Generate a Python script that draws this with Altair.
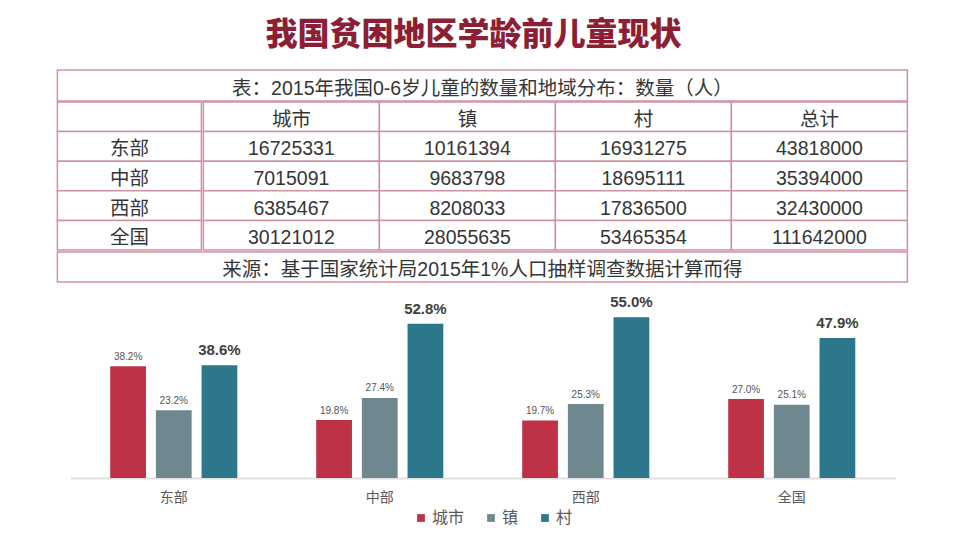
import altair as alt
import pandas as pd

# ---------------- data ----------------
chart_title = "我国贫困地区学龄前儿童现状"
table_title = "表：2015年我国0-6岁儿童的数量和地域分布：数量（人）"
table_source = "来源：基于国家统计局2015年1%人口抽样调查数据计算而得"

regions = ["东部", "中部", "西部", "全国"]
areas = ["城市", "镇", "村"]
table_headers = ["城市", "镇", "村", "总计"]

count_city = [16725331, 7015091, 6385467, 30121012]
count_town = [10161394, 9683798, 8208033, 28055635]
count_village = [16931275, 18695111, 17836500, 53465354]
count_total = [43818000, 35394000, 32430000, 111642000]

share_city = [38.2, 19.8, 19.7, 27.0]
share_town = [23.2, 27.4, 25.3, 25.1]
share_village = [38.6, 52.8, 55.0, 47.9]

# ---------------- styles ----------------
FONT = "Liberation Sans, Noto Sans CJK SC"
CJK = "Noto Sans CJK SC"
BORDER = "#cf93a3"
TEXT = "#363636"
COLORS = ["#be3147", "#6f8890", "#2d778c"]
TFS = 19.5
GAP = -3

view_box = alt.ViewBackground(stroke=BORDER, strokeWidth=1.5)


def band(domain):
    return alt.Scale(domain=domain, paddingInner=0, paddingOuter=0)


def text_mark():
    return dict(fontSize=TFS, color=TEXT, font=FONT, baseline="middle", dy=3)


# ---------------- table: title row ----------------
title_row = alt.Chart(pd.DataFrame({"k": ["t"], "text": [table_title]})).mark_text(
    **text_mark()
).encode(
    x=alt.X("k:N", scale=band(["t"]), axis=None),
    text="text:N",
).properties(width=850, height=31, view=view_box)

# ---------------- table: body ----------------
body_rows = ["header"] + regions

label_df = pd.DataFrame({"row": body_rows, "col": ["c0"] * len(body_rows),
                         "text": [""] + regions})
lx = alt.X("col:N", scale=band(["c0"]), axis=None)
ly = alt.Y("row:N", scale=band(body_rows), axis=None)
label_col = alt.layer(
    alt.Chart(label_df).mark_rect(fill="white", stroke=BORDER, strokeWidth=1.5).encode(x=lx, y=ly),
    alt.Chart(label_df).mark_text(**text_mark()).encode(x=lx, y=ly, text="text:N"),
).properties(width=144, height=148)

data_texts = []
for c in table_headers:
    data_texts.append({"row": "header", "col": c, "text": c})
for i, r in enumerate(regions):
    for c, series in zip(table_headers, [count_city, count_town, count_village, count_total]):
        data_texts.append({"row": r, "col": c, "text": str(series[i])})
data_df = pd.DataFrame(data_texts)
dx_ = alt.X("col:N", scale=band(table_headers), axis=None)
dy_ = alt.Y("row:N", scale=band(body_rows), axis=None)
data_cols = alt.layer(
    alt.Chart(data_df).mark_rect(fill="white", stroke=BORDER, strokeWidth=1.5).encode(x=dx_, y=dy_),
    alt.Chart(data_df).mark_text(**text_mark()).encode(x=dx_, y=dy_, text="text:N"),
).properties(width=704, height=148)

body = alt.hconcat(label_col, data_cols, spacing=GAP)

# ---------------- table: source row ----------------
source_row = alt.Chart(pd.DataFrame({"k": ["s"], "text": [table_source]})).mark_text(
    **text_mark()
).encode(
    x=alt.X("k:N", scale=band(["s"]), axis=None),
    text="text:N",
).properties(width=850, height=30, view=view_box)

table = alt.vconcat(title_row, body, source_row, spacing=GAP)

# ---------------- bars ----------------
bar_df = pd.DataFrame({
    "region": regions * 3,
    "area": [a for a in areas for _ in regions],
    "share": share_city + share_town + share_village,
})
bar_df["label"] = bar_df["share"].map(lambda v: f"{v:.1f}%")

base = alt.Chart(bar_df).encode(
    x=alt.X("region:N", sort=regions,
            scale=alt.Scale(domain=regions, paddingInner=0.383, paddingOuter=0.194),
            axis=alt.Axis(title=None, labelAngle=0, ticks=False, domainColor="#e0e0e0",
                          domainWidth=2, labelFontSize=14, labelColor="#595959",
                          labelPadding=12, labelFont=CJK)),
    xOffset=alt.XOffset("area:N", scale=alt.Scale(domain=areas, paddingInner=0.217, paddingOuter=0)),
    y=alt.Y("share:Q", scale=alt.Scale(domain=[0, 65]), axis=None),
)

bars = base.mark_bar().encode(
    color=alt.Color("area:N", scale=alt.Scale(domain=areas, range=COLORS),
                    legend=alt.Legend(title=None, orient="none", legendX=356, legendY=440,
                                      direction="horizontal", symbolType="square",
                                      symbolSize=60, symbolStrokeWidth=0,
                                      labelFontSize=16, labelColor="#595959", labelFont=CJK,
                                      columnPadding=18, labelOffset=3))
)
small = base.transform_filter(alt.datum.area != "村").mark_text(
    dy=-6.5, fontSize=10, color="#555555", font=FONT, baseline="alphabetic"
).encode(text="label:N")
big = base.transform_filter(alt.datum.area == "村").mark_text(
    dy=-10, fontSize=15, fontWeight="bold", color="#404040", font=FONT, baseline="alphabetic"
).encode(text="label:N")

barchart = alt.layer(bars, small, big).properties(width=825, height=190)

chart = alt.vconcat(table, barchart, spacing=4, center=True).properties(
    title=alt.TitleParams(chart_title, fontSize=32, font=CJK, fontWeight=900,
                          color="#8c1f35", anchor="middle", offset=17, dx=-9),
    padding={"left": 56, "top": 19, "right": 0, "bottom": 60},
).configure_view(stroke="transparent")

chart.save("out.html", embed_options={"renderer": "svg", "actions": False})
